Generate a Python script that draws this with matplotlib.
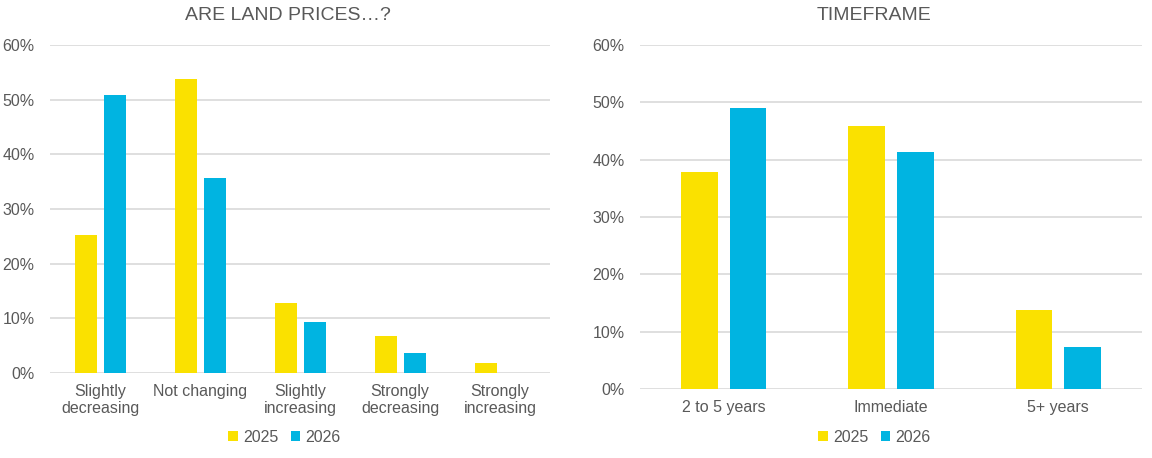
import matplotlib.pyplot as plt
import numpy as np
from matplotlib.ticker import PercentFormatter

plt.rcParams['font.family'] = ['Liberation Sans', 'DejaVu Sans']

# Données
annees = ['2025', '2026']
prix_categories = ['Slightly\ndecreasing', 'Not changing', 'Slightly\nincreasing',
                   'Strongly\ndecreasing', 'Strongly\nincreasing']
prix_2025 = [25.2, 53.8, 12.8, 6.8, 1.8]
prix_2026 = [50.9, 35.7, 9.3, 3.7, 0.0]

delai_categories = ['2 to 5 years', 'Immediate', '5+ years']
delai_2025 = [37.9, 45.9, 13.8]
delai_2026 = [49.0, 41.3, 7.3]

jaune = '#FAE100'
bleu = '#00B4E1'
gris = '#595959'
grille = '#D9D9D9'

fig = plt.figure(figsize=(11.52, 4.58), dpi=100)
ax1 = fig.add_axes([50 / 1152, 1 - 373 / 458, 500 / 1152, 328 / 458])
ax2 = fig.add_axes([640 / 1152, 1 - 389 / 458, 502 / 1152, 344 / 458])


def trace(ax, cats, v1, v2, ecart):
    x = np.arange(len(cats))
    ax.bar(x - ecart, v1, width=0.22, color=jaune, label=annees[0], zorder=3)
    ax.bar(x + ecart, v2, width=0.22, color=bleu, label=annees[1], zorder=3)
    ax.set_xlim(-0.5, len(cats) - 0.5)
    ax.set_ylim(0, 60)
    ax.set_yticks(range(0, 61, 10))
    ax.yaxis.set_major_formatter(PercentFormatter(decimals=0))
    ax.set_xticks(x)
    ax.set_xticklabels(cats, linespacing=1.15)
    ax.grid(axis='y', color=grille, linewidth=1.2, zorder=0)
    for s in ax.spines.values():
        s.set_visible(False)
    ax.tick_params(length=0, labelsize=11.5, labelcolor=gris)
    ax.tick_params(axis='x', pad=8)
    ax.tick_params(axis='y', pad=11)


trace(ax1, prix_categories, prix_2025, prix_2026, 0.145)
trace(ax2, delai_categories, delai_2025, delai_2026, 0.145)

fig.text(0.25, 0.966, 'ARE LAND PRICES…?', ha='center', va='center', fontsize=14, color=gris)
fig.text(0.759, 0.966, 'TIMEFRAME', ha='center', va='center', fontsize=14, color=gris)

for ax, cx in [(ax1, 284.5 / 1152), (ax2, 874.5 / 1152)]:
    h, l = ax.get_legend_handles_labels()
    fig.legend(h, l, loc='center', bbox_to_anchor=(cx, 1 - 437 / 458), ncol=2, frameon=False,
               fontsize=11.5, labelcolor=gris, handlelength=0.6, handleheight=0.6,
               handletextpad=0.3, columnspacing=0.8, borderpad=0)

fig.savefig('out.png', dpi=100)
